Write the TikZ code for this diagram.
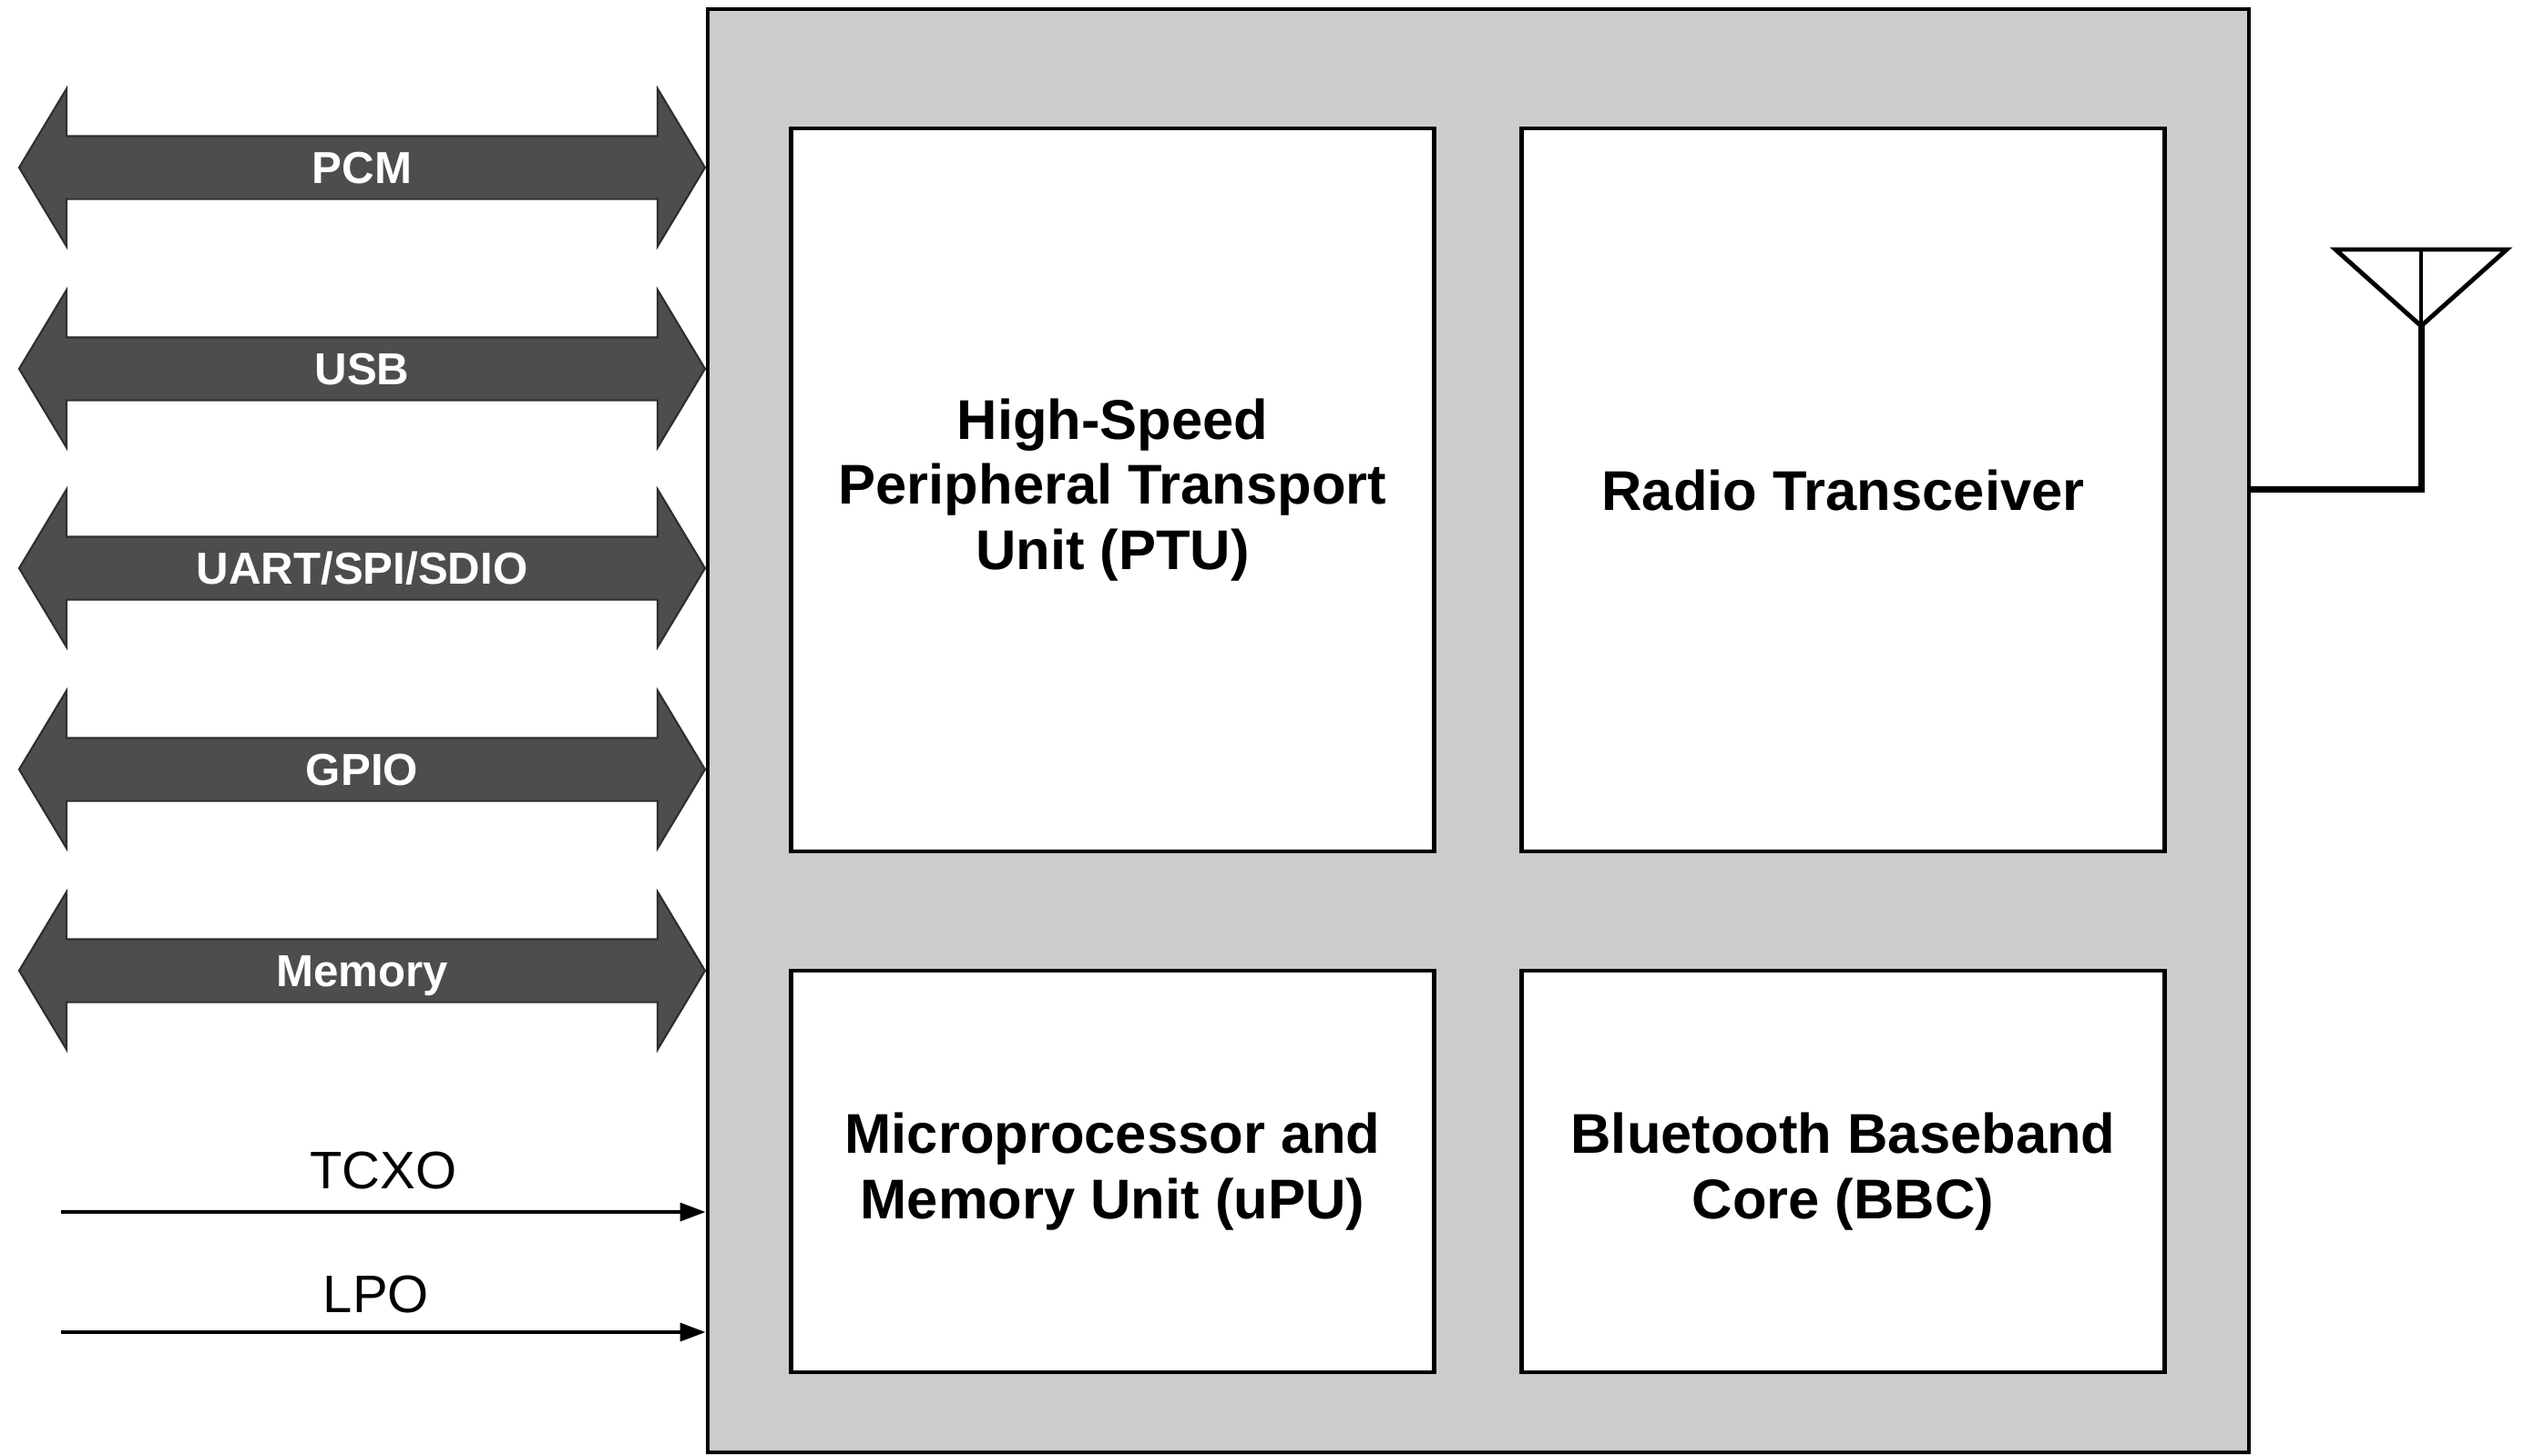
\documentclass[tikz,border=0pt]{standalone}
\usepackage{fontspec}
\setmainfont{Liberation Sans}
\usepackage{tikz}
\usetikzlibrary{arrows.meta,positioning,shapes.arrows,calc}
\definecolor{chipgray}{HTML}{CCCCCC}
\definecolor{busgray}{HTML}{4D4D4D}
\definecolor{busedge}{HTML}{2E2E2E}

\begin{document}
\begin{tikzpicture}[
    chip/.style={rectangle, draw=black, fill=chipgray, line width=1.4pt, minimum width=16.92cm, minimum height=15.85cm},
    block/.style={rectangle, draw=black, fill=white, line width=1.2pt, align=center, minimum width=7.06cm, font=\bfseries\fontsize{17.5}{20.3}\selectfont},
    bus/.style={double arrow, draw=busedge, fill=busgray, line width=0.6pt, text=white, inner xsep=0pt, inner ysep=0pt,
      text height=0.51cm, text depth=0.16cm, minimum height=7.53cm, double arrow head extend=0.52cm,
      double arrow tip angle=118, font=\bfseries\fontsize{14}{16}\selectfont},
    clk/.style={-{Triangle[length=0.28cm, width=0.2cm]}, line width=1pt},
    clklabel/.style={font=\fontsize{16.5}{19}\selectfont},
    antenna/.style={line width=1.4pt, line join=miter}
  ]
    \useasboundingbox (0,0) rectangle (27.71,-15.98);

    \node[chip] (chip) at (16.23,-8.025) {};
    \node[block, minimum height=7.94cm] (ptu) at (12.215,-5.38) {High-Speed\\Peripheral Transport\\Unit (PTU)};
    \node[block, minimum height=7.94cm] (radio) at (20.235,-5.38) {Radio Transceiver};
    \node[block, minimum height=4.41cm] (upu) at (12.215,-12.865) {Microprocessor and\\Memory Unit (uPU)};
    \node[block, minimum height=4.41cm] (bbc) at (20.235,-12.865) {Bluetooth Baseband\\Core (BBC)};

    \node[bus] (pcm) at (3.975,-1.84) {PCM};
    \node[bus] (usb) at (3.975,-4.05) {USB};
    \node[bus] (uart) at (3.975,-6.24) {UART/SPI/SDIO};
    \node[bus] (gpio) at (3.975,-8.45) {GPIO};
    \node[bus] (mem) at (3.975,-10.66) {Memory};

    \coordinate (tcxo in) at (0.67,-13.31);
    \coordinate (lpo in) at (0.67,-14.63);
    \node[clklabel] (tcxo) at (4.21,-12.86) {TCXO};
    \node[clklabel] (lpo) at (4.13,-14.22) {LPO};
    \draw[clk] (tcxo in) -- (tcxo in -| chip.west);
    \draw[clk] (lpo in) -- (lpo in -| chip.west);

    % antenna
    \coordinate (ant apex) at (26.58,-3.58);
    \coordinate (ant top) at (26.58,-2.74);
    \coordinate (ant left) at (25.64,-2.74);
    \coordinate (ant right) at (27.52,-2.74);
    \draw[line width=2pt] (chip.east |- 0,-5.37) -- (ant apex |- 0,-5.37) -- (ant apex);
    \draw[antenna] (ant left) -- (ant right) -- (ant apex) -- cycle;
    \draw[line width=1pt] (ant apex) -- (ant top);
  \end{tikzpicture}
\end{document}
